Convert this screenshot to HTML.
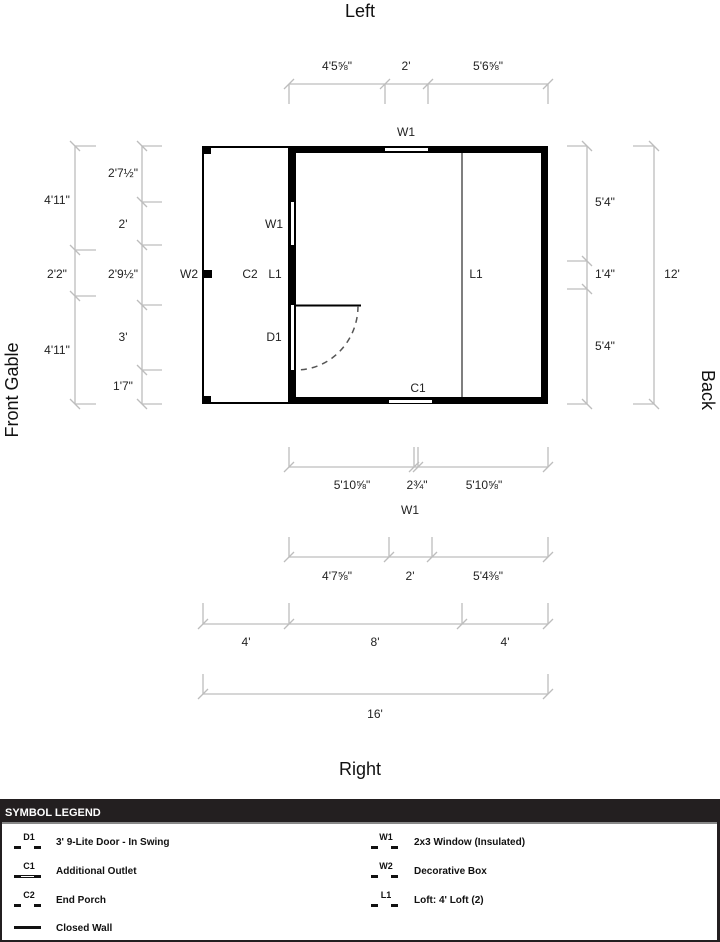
<!DOCTYPE html>
<html><head><meta charset="utf-8"><style>
html,body{margin:0;padding:0;background:#fff;width:720px;height:942px;overflow:hidden}
svg{display:block;font-family:"Liberation Sans",Arial,sans-serif}
.d{stroke:#bdbdbd;stroke-width:1.3;fill:none}
.t{font-size:12px;fill:#222;text-anchor:middle}
.lg{font-family:"Liberation Sans",sans-serif;font-weight:bold;font-size:10px;fill:#111}
</style></head><body>
<svg width="720" height="942" viewBox="0 0 720 942">
<!-- titles -->
<text x="360" y="17" font-size="18" text-anchor="middle" fill="#111">Left</text>
<text x="360" y="775" font-size="18" text-anchor="middle" fill="#111">Right</text>
<text transform="translate(18,390) rotate(-90)" font-size="18" text-anchor="middle" fill="#111">Front Gable</text>
<text transform="translate(702,390) rotate(90)" font-size="18" text-anchor="middle" fill="#111">Back</text>

<!-- top dims -->
<g class="d">
<line x1="289" y1="84" x2="548" y2="84"/>
<path d="M289 84V104M385 84V104M428 84V104M548 84V104"/>
<path d="M284 89L294 79M380 89L390 79M423 89L433 79M543 89L553 79"/>
</g>
<text class="t" x="337" y="70">4'5⅝"</text>
<text class="t" x="406" y="70">2'</text>
<text class="t" x="488" y="70">5'6⅝"</text>

<!-- right dims -->
<g class="d">
<line x1="587" y1="146" x2="587" y2="404"/>
<path d="M567 146H587M567 261H587M567 289H587M567 404H587"/>
<path d="M582 141L592 151M582 256L592 266M582 284L592 294M582 399L592 409"/>
<line x1="654" y1="146" x2="654" y2="404"/>
<path d="M633 146H654M633 404H654"/>
<path d="M649 141L659 151M649 399L659 409"/>
</g>
<text class="t" x="605" y="206">5'4"</text>
<text class="t" x="605" y="278">1'4"</text>
<text class="t" x="605" y="350">5'4"</text>
<text class="t" x="672" y="278">12'</text>

<!-- left dims -->
<g class="d">
<line x1="75" y1="146" x2="75" y2="404"/>
<path d="M75 146H96M75 250H96M75 296H96M75 404H96"/>
<path d="M70 141L80 151M70 245L80 255M70 291L80 301M70 399L80 409"/>
<line x1="142" y1="146" x2="142" y2="404"/>
<path d="M142 146H162M142 202H162M142 245H162M142 305H162M142 370H162M142 404H162"/>
<path d="M137 141L147 151M137 197L147 207M137 240L147 250M137 300L147 310M137 365L147 375M137 399L147 409"/>
</g>
<text class="t" x="57" y="204">4'11"</text>
<text class="t" x="57" y="278">2'2"</text>
<text class="t" x="57" y="354">4'11"</text>
<text class="t" x="123" y="177">2'7½"</text>
<text class="t" x="123" y="228">2'</text>
<text class="t" x="123" y="278">2'9½"</text>
<text class="t" x="123" y="341">3'</text>
<text class="t" x="123" y="390">1'7"</text>

<!-- porch -->
<rect x="203" y="147" width="86" height="256" fill="none" stroke="#000" stroke-width="2"/>
<rect x="202" y="146" width="9" height="8" fill="#000"/>
<rect x="202" y="396" width="9" height="8" fill="#000"/>
<rect x="203" y="270" width="9" height="8" fill="#000"/>
<text class="t" x="189" y="278">W2</text>
<text class="t" x="250" y="278">C2</text>
<text class="t" x="275" y="278">L1</text>
<text class="t" x="274" y="228">W1</text>
<text class="t" x="274" y="341">D1</text>

<!-- building -->
<path d="M288 146H548V404H288Z M296 153V397H541V153Z" fill="#000" fill-rule="evenodd"/>
<line x1="462" y1="153" x2="462" y2="397" stroke="#555" stroke-width="1.5"/>
<rect x="385" y="148" width="43" height="3" fill="#fff"/>
<rect x="389" y="400" width="43" height="3" fill="#fff"/>
<rect x="291" y="202" width="3" height="43" fill="#fff"/>
<rect x="291" y="305" width="3" height="65" fill="#fff"/>
<line x1="296" y1="305.5" x2="361" y2="305.5" stroke="#000" stroke-width="2"/>
<line x1="358" y1="305" x2="358" y2="310" stroke="#000" stroke-width="1"/>
<path d="M358 306A62 64 0 0 1 296 370" fill="none" stroke="#555" stroke-width="1.5" stroke-dasharray="6,5"/>
<text class="t" x="406" y="136">W1</text>
<text class="t" x="418" y="392">C1</text>
<text class="t" x="476" y="278">L1</text>

<!-- bottom dims -->
<g class="d">
<line x1="289" y1="467" x2="548" y2="467"/>
<path d="M289 447V467M414 447V467M418 447V467M548 447V467"/>
<path d="M284 472L294 462M409 472L419 462M413 472L423 462M543 472L553 462"/>
<line x1="289" y1="557" x2="548" y2="557"/>
<path d="M289 537V557M389 537V557M432 537V557M548 537V557"/>
<path d="M284 562L294 552M384 562L394 552M427 562L437 552M543 562L553 552"/>
<line x1="203" y1="624" x2="548" y2="624"/>
<path d="M203 603V624M289 603V624M462 603V624M548 603V624"/>
<path d="M198 629L208 619M284 629L294 619M457 629L467 619M543 629L553 619"/>
<line x1="203" y1="694" x2="548" y2="694"/>
<path d="M203 674V694M548 674V694"/>
<path d="M198 699L208 689M543 699L553 689"/>
</g>
<text class="t" x="352" y="489">5'10⅝"</text>
<text class="t" x="417" y="489">2¾"</text>
<text class="t" x="484" y="489">5'10⅝"</text>
<text class="t" x="410" y="514">W1</text>
<text class="t" x="337" y="580">4'7⅝"</text>
<text class="t" x="410" y="580">2'</text>
<text class="t" x="488" y="580">5'4⅜"</text>
<text class="t" x="246" y="646">4'</text>
<text class="t" x="375" y="646">8'</text>
<text class="t" x="505" y="646">4'</text>
<text class="t" x="375" y="718">16'</text>

<!-- legend -->
<rect x="0" y="799" width="720" height="23" fill="#231f20"/>
<rect x="0" y="822" width="720" height="2" fill="#888"/>
<rect x="0" y="822" width="2" height="120" fill="#231f20"/>
<rect x="717" y="822" width="3" height="120" fill="#231f20"/>
<rect x="0" y="940" width="720" height="2" fill="#231f20"/>
<text x="5" y="816" font-weight="bold" font-size="11" fill="#fff" font-family="Liberation Sans,sans-serif">SYMBOL LEGEND</text>
<g fill="#111" font-family="Liberation Sans,sans-serif" font-weight="bold" font-size="9" text-anchor="middle">
<text x="29" y="840">D1</text><text x="29" y="869">C1</text><text x="29" y="898">C2</text>
<text x="386" y="840">W1</text><text x="386" y="869">W2</text><text x="386" y="898">L1</text>
</g>
<g fill="#111">
<rect x="14" y="846" width="7" height="3"/><rect x="34" y="846" width="7" height="3"/>
<rect x="14" y="875" width="7" height="3"/><rect x="34" y="875" width="7" height="3"/><rect x="21" y="875" width="13" height="1"/><rect x="21" y="877" width="13" height="1"/>
<rect x="14" y="904" width="7" height="3"/><rect x="34" y="904" width="7" height="3"/>
<rect x="14" y="926" width="27" height="3"/>
<rect x="371" y="846" width="7" height="3"/><rect x="391" y="846" width="7" height="3"/>
<rect x="371" y="875" width="7" height="3"/><rect x="391" y="875" width="7" height="3"/>
<rect x="371" y="904" width="7" height="3"/><rect x="391" y="904" width="7" height="3"/>
</g>
<text class="lg" x="56" y="845">3' 9-Lite Door - In Swing</text>
<text class="lg" x="56" y="874">Additional Outlet</text>
<text class="lg" x="56" y="903">End Porch</text>
<text class="lg" x="56" y="931">Closed Wall</text>
<text class="lg" x="414" y="845">2x3 Window (Insulated)</text>
<text class="lg" x="414" y="874">Decorative Box</text>
<text class="lg" x="414" y="903">Loft: 4' Loft (2)</text>
</svg>
</body></html>
